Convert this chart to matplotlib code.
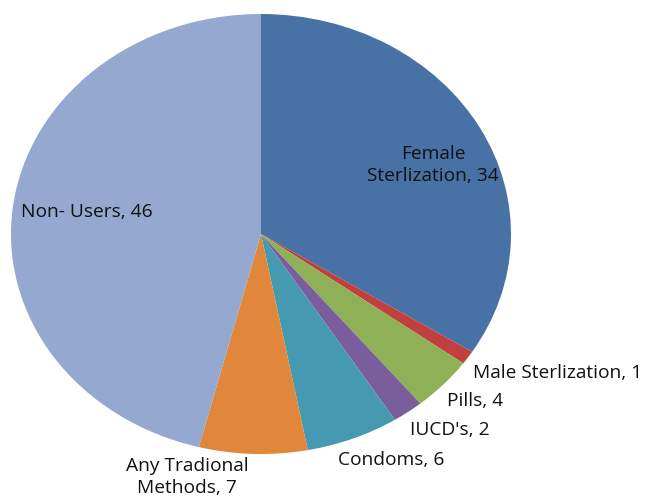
import matplotlib.pyplot as plt

labels = ['Female\nSterlization, 34', 'Male Sterlization, 1', 'Pills, 4', "IUCD's, 2",
          'Condoms, 6', 'Any Tradional\nMethods, 7', 'Non- Users, 46']
values = [34, 1, 4, 2, 6, 7, 46]
colors = ['#4872A6', '#C0403D', '#8FB056', '#7A5D9C', '#4599B0', '#E0873C', '#94A8D0']

# label placement (data coords of the stretched pie) and alignment
label_pos = [(0.688, 0.314), (0.848, -0.632), (0.744, -0.759), (0.596, -0.891),
             (0.52, -1.027), (-0.296, -1.105), (-0.696, 0.10)]
label_ha = ['center', 'left', 'left', 'left', 'center', 'center', 'center']

plt.rcParams['font.family'] = ['Open Sans', 'DejaVu Sans']

fig = plt.figure(figsize=(6.45, 4.97), dpi=100)
ax = fig.add_axes([11 / 645, 43 / 497, 500 / 645, 440 / 497])
ax.pie(values, colors=colors, startangle=90, counterclock=False,
       wedgeprops=dict(linewidth=0))
ax.set_aspect('auto')
ax.set_xlim(-1, 1)
ax.set_ylim(-1, 1)
ax.axis('off')

for lab, (x, y), ha in zip(labels, label_pos, label_ha):
    ax.text(x, y, lab, ha=ha, va='center', fontsize=13.8, color='#111111',
            linespacing=1.25, clip_on=False)

fig.savefig('out.png', dpi=100)
